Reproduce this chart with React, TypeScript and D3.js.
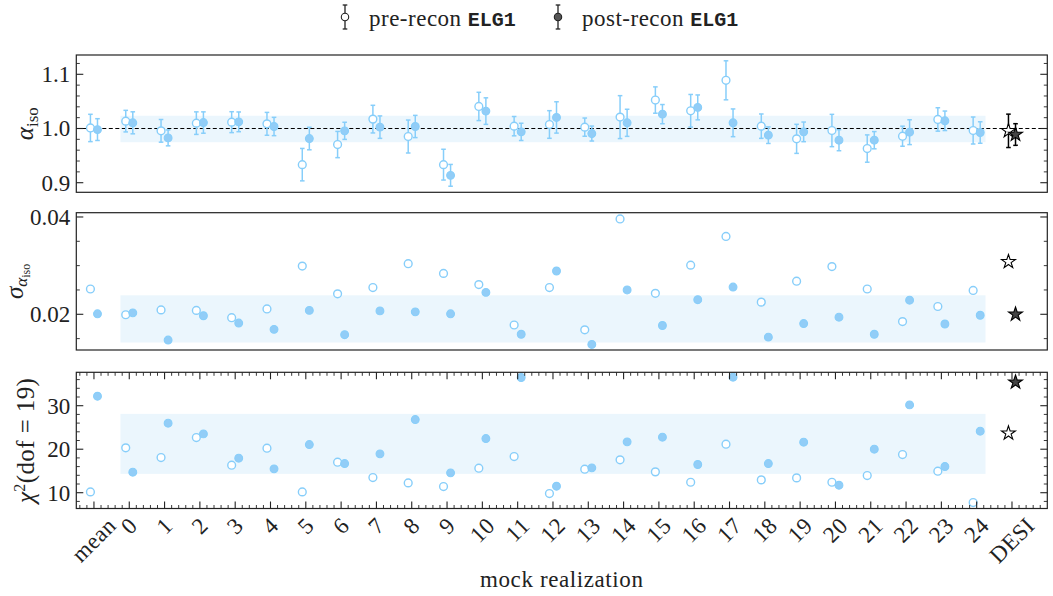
import React, { useEffect, useRef } from "react";
import * as d3 from "d3";

const categories = ["mean","0","1","2","3","4","5","6","7","8","9","10","11","12","13","14","15","16","17","18","19","20","21","22","23","24","DESI"];

const preAlpha = [1.001, 1.0136, 0.9957, 1.0099, 1.0117, 1.0086, 0.9333, 0.9704, 1.0173, 0.9852, 0.9333, 1.0407, 1.0043, 1.0074, 1.0025, 1.021, 1.0525, 1.0327, 1.0889, 1.0043, 0.9809, 0.9963, 0.963, 0.9858, 1.0167, 0.9963, 0.9957];
const postAlpha = [0.998, 1.0105, 0.9827, 1.011, 1.0123, 1.0037, 0.9815, 0.9957, 1.0025, 1.0037, 0.9136, 1.0321, 0.9938, 1.0204, 0.9907, 1.0105, 1.0265, 1.0389, 1.0105, 0.9877, 0.9938, 0.9784, 0.9784, 0.9932, 1.0142, 0.9926, 0.9889];

const preSigma = [0.0252, 0.0199, 0.0209, 0.0208, 0.0193, 0.0211, 0.0299, 0.0242, 0.0255, 0.0304, 0.0284, 0.0261, 0.0178, 0.0255, 0.0168, 0.0396, 0.0243, 0.0301, 0.036, 0.0225, 0.0268, 0.0298, 0.0252, 0.0185, 0.0216, 0.0249, 0.0308];
const postSigma = [0.0201, 0.0203, 0.0147, 0.0197, 0.0182, 0.0169, 0.0208, 0.0158, 0.0207, 0.0205, 0.0201, 0.0245, 0.0159, 0.0289, 0.0138, 0.025, 0.0177, 0.023, 0.0256, 0.0153, 0.0181, 0.0194, 0.0159, 0.0229, 0.018, 0.0198, 0.02];

const preChi2 = [10.19, 20.31, 18.08, 22.68, 16.32, 20.23, 10.19, 17.01, 13.49, 12.26, 11.42, 15.63, 18.31, 9.81, 15.4, 17.55, 14.79, 12.41, 21.15, 12.95, 13.41, 12.41, 13.95, 18.77, 14.94, 7.74, 23.68];
const postChi2 = [32.18, 14.71, 25.98, 23.52, 17.93, 15.48, 21.07, 16.7, 18.93, 26.82, 14.56, 22.45, 36.48, 11.49, 15.71, 21.69, 22.76, 16.48, 36.55, 16.7, 21.61, 11.72, 20.0, 30.19, 16.02, 24.14, 35.4];

const alphaBand = [0.9747, 1.0235];
const sigmaBand = [0.0142, 0.0239];
const chi2Band = [14.33, 28.12];

const alphaTicks = [0.9, 1.0, 1.1];
const alphaTickLabels = ["0.9", "1.0", "1.1"];
const sigmaTicks = [0.02, 0.04];
const sigmaTickLabels = ["0.02", "0.04"];
const chi2Ticks = [10, 20, 30];
const chi2TickLabels = ["10", "20", "30"];

const BLUE = "#87cefa";
const BLUE_FILL = "#92cdf7";
const BAND = "#ebf6fd";
const SERIF = '"Liberation Serif", serif';
const MONO = '"Liberation Mono", monospace';

export default function App() {
  const ref = useRef<SVGSVGElement>(null);

  useEffect(() => {
    const svg = d3.select(ref.current);
    svg.selectAll("*").remove();

    const nCat = categories.length;
    const x = d3.scaleLinear().domain([-0.5, 27]).range([76.3, 1047.3]);
    const off = 0.1;
    const mockIdx = d3.range(0, nCat - 1);
    const desiIdx = nCat - 1;

    const panels = [
      { top: 55, bottom: 192.3, domain: [0.8823, 1.1356], ticks: alphaTicks, labels: alphaTickLabels, minor: d3.range(0.88, 1.14, 0.02), band: alphaBand, pre: preAlpha, post: postAlpha, preErr: preSigma, postErr: postSigma, xticks: false },
      { top: 212.7, bottom: 350, domain: [0.01266, 0.04088], ticks: sigmaTicks, labels: sigmaTickLabels, minor: d3.range(0.015, 0.041, 0.005), band: sigmaBand, pre: preSigma, post: postSigma, preErr: null, postErr: null, xticks: false },
      { top: 372.3, bottom: 508.5, domain: [6.37, 37.68], ticks: chi2Ticks, labels: chi2TickLabels, minor: d3.range(8, 38, 2), band: chi2Band, pre: preChi2, post: postChi2, preErr: null, postErr: null, xticks: true },
    ];

    const L = x.range()[0], R = x.range()[1];

    const txt = (sel: any, size: number) =>
      sel.style("font-family", SERIF).style("font-size", size + "px").attr("fill", "#222");

    panels.forEach((p, pi) => {
      const y = d3.scaleLinear().domain(p.domain).range([p.bottom, p.top]);
      const g = svg.append("g");
      g.append("rect")
        .attr("x", x(0.75)).attr("width", x(25.25) - x(0.75))
        .attr("y", y(p.band[1])).attr("height", y(p.band[0]) - y(p.band[1]))
        .attr("fill", BAND);
      if (pi === 0) {
        g.append("line").attr("x1", L).attr("x2", R).attr("y1", y(1)).attr("y2", y(1))
          .attr("stroke", "#000").attr("stroke-width", 1.1).attr("stroke-dasharray", "4,2.5");
      }
      const drawErr = (xi: number, v: number, e: number, color: string) => {
        const cx = x(xi);
        g.append("line").attr("x1", cx).attr("x2", cx).attr("y1", y(v - e)).attr("y2", y(v + e))
          .attr("stroke", color).attr("stroke-width", 1.5);
        [v - e, v + e].forEach((yy) => {
          g.append("line").attr("x1", cx - 2.3).attr("x2", cx + 2.3).attr("y1", y(yy)).attr("y2", y(yy))
            .attr("stroke", color).attr("stroke-width", 1.5);
        });
      };
      if (p.preErr && p.postErr) {
        mockIdx.forEach((i) => {
          drawErr(i - off, p.pre[i], p.preErr![i], BLUE);
          drawErr(i + off, p.post[i], p.postErr![i], BLUE);
        });
        drawErr(desiIdx - off, p.pre[desiIdx], p.preErr[desiIdx], "#000");
        drawErr(desiIdx + off, p.post[desiIdx], p.postErr[desiIdx], "#000");
      }
      mockIdx.forEach((i) => {
        g.append("circle").attr("cx", x(i - off)).attr("cy", y(p.pre[i])).attr("r", 3.9)
          .attr("fill", "#fff").attr("stroke", BLUE).attr("stroke-width", 1.4);
      });
      mockIdx.forEach((i) => {
        g.append("circle").attr("cx", x(i + off)).attr("cy", y(p.post[i])).attr("r", 3.9)
          .attr("fill", BLUE_FILL).attr("stroke", BLUE).attr("stroke-width", 1.1);
      });
      const star = d3.symbol().type(d3.symbolStar).size(60);
      g.append("path").attr("d", star() as string)
        .attr("transform", `translate(${x(desiIdx - off)},${y(p.pre[desiIdx])})`)
        .attr("fill", "#fff").attr("stroke", "#000").attr("stroke-width", 1.1);
      g.append("path").attr("d", star() as string)
        .attr("transform", `translate(${x(desiIdx + off)},${y(p.post[desiIdx])})`)
        .attr("fill", "#444").attr("stroke", "#000").attr("stroke-width", 1.1);

      g.append("rect").attr("x", L).attr("y", p.top).attr("width", R - L).attr("height", p.bottom - p.top)
        .attr("fill", "none").attr("stroke", "#222").attr("stroke-width", 1.2);

      p.minor.forEach((v) => {
        if (v < p.domain[0] || v > p.domain[1]) return;
        if (p.ticks.some((t) => Math.abs(t - v) < 1e-6)) return;
        g.append("line").attr("x1", L).attr("x2", L + 3.5).attr("y1", y(v)).attr("y2", y(v)).attr("stroke", "#222").attr("stroke-width", 0.9);
        g.append("line").attr("x1", R).attr("x2", R - 3.5).attr("y1", y(v)).attr("y2", y(v)).attr("stroke", "#222").attr("stroke-width", 0.9);
      });
      p.ticks.forEach((v, k) => {
        g.append("line").attr("x1", L).attr("x2", L + 7).attr("y1", y(v)).attr("y2", y(v)).attr("stroke", "#222").attr("stroke-width", 1.1);
        g.append("line").attr("x1", R).attr("x2", R - 7).attr("y1", y(v)).attr("y2", y(v)).attr("stroke", "#222").attr("stroke-width", 1.1);
        txt(g.append("text"), 23).attr("x", L - 6).attr("y", y(v)).attr("dy", "0.34em")
          .attr("text-anchor", "end").text(p.labels[k]);
      });

      if (p.xticks) {
        d3.range(-0.4, 27.0, 0.2).forEach((v) => {
          const r = Math.round(v);
          if (Math.abs(v - r) < 1e-6) return;
          g.append("line").attr("x1", x(v)).attr("x2", x(v)).attr("y1", p.bottom).attr("y2", p.bottom - 3.5).attr("stroke", "#222").attr("stroke-width", 0.9);
          g.append("line").attr("x1", x(v)).attr("x2", x(v)).attr("y1", p.top).attr("y2", p.top + 3.5).attr("stroke", "#222").attr("stroke-width", 0.9);
        });
        categories.forEach((c, i) => {
          g.append("line").attr("x1", x(i)).attr("x2", x(i)).attr("y1", p.bottom).attr("y2", p.bottom - 7).attr("stroke", "#222").attr("stroke-width", 1.1);
          g.append("line").attr("x1", x(i)).attr("x2", x(i)).attr("y1", p.top).attr("y2", p.top + 7).attr("stroke", "#222").attr("stroke-width", 1.1);
          const t = txt(g.append("text"), 23).style("letter-spacing", "0.4px")
            .attr("text-anchor", "middle").attr("dominant-baseline", "central").text(c);
          const w = (t.node() as SVGTextElement).getComputedTextLength();
          const h = 15;
          const bh = (w + h) * Math.SQRT1_2;
          t.attr("transform", `translate(${x(i)},${p.bottom + 8 + bh / 2}) rotate(-45)`);
        });
      }
    });

    const yl1 = txt(svg.append("text"), 25).attr("transform", `translate(33,${(55 + 192.3) / 2}) rotate(-90)`)
      .attr("text-anchor", "middle");
    yl1.append("tspan").style("font-style", "italic").text("α");
    yl1.append("tspan").style("font-size", "17px").attr("dy", 5).text("iso");

    const yl2 = txt(svg.append("text"), 25).attr("transform", `translate(23,${(212.7 + 350) / 2}) rotate(-90)`)
      .attr("text-anchor", "middle");
    yl2.append("tspan").style("font-style", "italic").text("σ");
    yl2.append("tspan").style("font-style", "italic").style("font-size", "17px").attr("dy", 4).text("α");
    yl2.append("tspan").style("font-size", "12px").attr("dy", 3).text("iso");

    const yl3 = txt(svg.append("text"), 25).style("letter-spacing", "0.4px").attr("transform", `translate(34,${(372.3 + 508.5) / 2}) rotate(-90)`)
      .attr("text-anchor", "middle");
    yl3.append("tspan").style("font-style", "italic").text("χ");
    yl3.append("tspan").style("font-size", "16px").attr("dy", -9).text("2");
    yl3.append("tspan").attr("dy", 9).text("(dof = 19)");

    txt(svg.append("text"), 23).style("letter-spacing", "0.6px").attr("x", (L + R) / 2).attr("y", 587).attr("text-anchor", "middle")
      .text("mock realization");

    const legendItems = [
      { x: 345, fill: "#fff", label: "pre-recon " },
      { x: 558, fill: "#555", label: "post-recon " },
    ];
    legendItems.forEach((it) => {
      const lg = svg.append("g");
      lg.append("line").attr("x1", it.x).attr("x2", it.x).attr("y1", 5).attr("y2", 29).attr("stroke", "#222").attr("stroke-width", 1.3);
      [5, 29].forEach((yy) => lg.append("line").attr("x1", it.x - 2.3).attr("x2", it.x + 2.3).attr("y1", yy).attr("y2", yy).attr("stroke", "#222").attr("stroke-width", 1.3));
      lg.append("circle").attr("cx", it.x).attr("cy", 17).attr("r", 3.7).attr("fill", it.fill).attr("stroke", "#222").attr("stroke-width", 1.1);
      const t = txt(lg.append("text"), 23).attr("x", it.x + 24).attr("y", 26);
      t.append("tspan").style("letter-spacing", "0.5px").text(it.label);
      t.append("tspan").style("font-family", MONO).style("font-size", "20px").style("font-weight", "bold").style("letter-spacing", "0px").text("ELG1");
    });
  }, []);

  return (
    <svg ref={ref} width={1053} height={596} style={{ position: "absolute", left: 0, top: 0, background: "#fff" }} />
  );
}
